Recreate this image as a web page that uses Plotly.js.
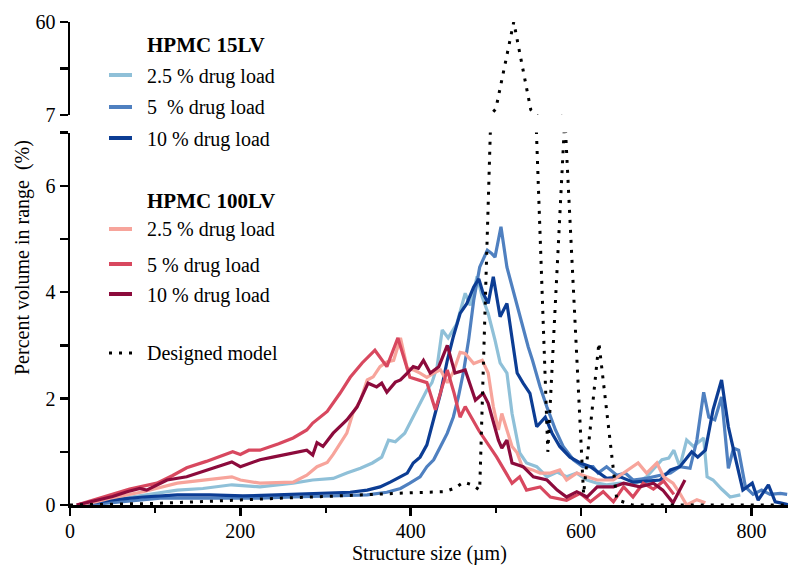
<!DOCTYPE html>
<html>
<head>
<meta charset="utf-8">
<script src="https://cdn.plot.ly/plotly-3.0.1.min.js"></script>
<style>html,body{margin:0;padding:0;background:#fff;}#chart{width:790px;height:572px;}</style>
</head>
<body>
<div id="chart"></div>
<script>
// ---- data ----
const lv15_25_x = [8, 30, 47, 86, 126, 156, 190, 223, 262, 285, 302, 309, 325, 341, 355, 366, 374, 382, 393, 403, 413, 419, 425, 431, 437, 444, 454, 464, 470, 478, 484, 491, 499, 505, 513, 519, 528, 536, 548, 560, 572, 583, 595, 607, 619, 630, 646, 661, 677, 686, 695, 703, 709, 716, 724, 732, 744, 748, 755, 765, 775, 787];
const lv15_25_y = [0, 0.04, 0.09, 0.19, 0.28, 0.31, 0.38, 0.34, 0.41, 0.47, 0.5, 0.5, 0.6, 0.69, 0.79, 0.9, 1.22, 1.19, 1.35, 1.65, 1.97, 2.16, 2.3, 2.6, 3.29, 3.14, 3.4, 3.98, 3.75, 4.3, 3.91, 3.6, 3.1, 2.67, 2.48, 1.72, 0.98, 0.79, 0.72, 0.53, 0.62, 0.53, 0.6, 0.47, 0.41, 0.38, 0.41, 0.38, 0.53, 0.7, 0.85, 0.88, 1.03, 0.72, 1.22, 1.1, 1.26, 0.53, 0.47, 0.3, 0.15, 0.19];

const lv15_5_x = [20, 40, 67, 106, 145, 184, 223, 262, 302, 330, 349, 372, 388, 399, 411, 419, 427, 435, 443, 450, 456, 462, 468, 474, 481, 490, 495, 499, 506, 513, 521, 531, 538, 543, 552, 560, 570, 579, 591, 602, 614, 620, 630, 642, 652, 661, 677, 693, 705, 716, 728, 736, 744, 750, 757, 765, 773, 779, 785, 793, 802, 812, 822, 834, 842];
const lv15_5_y = [0, 0.03, 0.06, 0.13, 0.13, 0.13, 0.13, 0.15, 0.17, 0.17, 0.19, 0.24, 0.31, 0.41, 0.53, 0.72, 0.85, 1.1, 1.35, 1.65, 2.03, 2.5, 3.1, 3.85, 4.47, 4.79, 4.73, 4.66, 5.23, 4.47, 3.98, 3.35, 2.97, 2.72, 2.22, 1.84, 1.41, 1.1, 0.85, 0.72, 0.72, 0.6, 0.72, 0.56, 0.6, 0.47, 0.5, 0.56, 0.6, 0.72, 0.69, 1.22, 2.12, 1.65, 1.6, 2.03, 0.69, 1.07, 1.03, 0.34, 0.2, 0.28, 0.2, 0.22, 0.2];

const lv15_10_x = [8, 47, 86, 126, 164, 203, 243, 282, 302, 329, 349, 364, 376, 388, 396, 403, 411, 419, 427, 435, 443, 450, 458, 466, 474, 480, 485, 491, 497, 505, 513, 519, 525, 532, 540, 548, 558, 566, 575, 587, 599, 611, 630, 646, 661, 677, 693, 705, 716, 730, 737, 746, 755, 765, 773, 781, 790, 801, 808, 820, 828, 834, 845];
const lv15_10_y = [0, 0.09, 0.15, 0.19, 0.19, 0.17, 0.19, 0.21, 0.23, 0.24, 0.28, 0.34, 0.43, 0.53, 0.6, 0.79, 0.9, 1.13, 1.6, 2.1, 2.72, 3.16, 3.6, 3.79, 4.1, 4.25, 3.98, 3.79, 4.29, 3.54, 3.79, 3.1, 2.48, 2.29, 2.1, 1.47, 1.65, 1.35, 1.1, 0.9, 0.79, 0.72, 0.5, 0.53, 0.43, 0.45, 0.47, 0.66, 0.72, 1.0, 0.9, 1.03, 1.79, 2.35, 1.47, 0.9, 0.28, 0.41, 0.09, 0.38, 0.06, 0.04, 0];

const lv100_25_x = [8, 30, 47, 86, 126, 156, 190, 200, 223, 262, 278, 290, 302, 309, 325, 332, 341, 349, 356, 364, 372, 380, 388, 396, 403, 411, 419, 427, 435, 443, 450, 458, 464, 474, 484, 491, 497, 503, 507, 513, 519, 525, 531, 543, 552, 564, 575, 583, 595, 607, 619, 638, 650, 667, 677, 689, 697, 708, 716, 724, 736, 746];
const lv100_25_y = [0, 0.06, 0.13, 0.25, 0.41, 0.47, 0.53, 0.47, 0.41, 0.43, 0.56, 0.72, 0.8, 0.95, 1.35, 1.72, 1.97, 2.35, 2.41, 2.6, 2.69, 2.72, 3.14, 2.57, 2.54, 2.48, 2.4, 2.48, 2.54, 2.3, 2.5, 2.87, 2.85, 2.66, 2.72, 2.48, 1.85, 1.41, 1.72, 1.41, 1.1, 0.98, 0.72, 0.66, 0.6, 0.6, 0.66, 0.47, 0.6, 0.53, 0.47, 0.47, 0.6, 0.79, 0.6, 0.79, 0.53, 0.41, 0.22, 0, 0.1, 0.04];

const lv100_5_x = [8, 25, 47, 70, 90, 102, 120, 137, 160, 191, 200, 210, 223, 245, 262, 278, 285, 302, 317, 329, 343, 358, 372, 385, 399, 419, 429, 443, 451, 458, 464, 480, 501, 519, 528, 536, 552, 564, 583, 599, 611, 626, 638, 650, 661, 673, 685, 697, 709];
const lv100_5_y = [0, 0.08, 0.19, 0.3, 0.37, 0.41, 0.55, 0.7, 0.82, 1.0, 0.95, 1.03, 1.03, 1.15, 1.26, 1.41, 1.54, 1.76, 2.1, 2.4, 2.67, 2.91, 2.6, 3.14, 2.4, 2.3, 1.79, 2.54, 2.1, 1.65, 1.85, 1.4, 0.9, 0.41, 0.53, 0.28, 0.34, 0.15, 0.09, 0.22, 0.06, 0.25, 0.06, 0.34, 0.15, 0.41, 0.3, 0.45, 0.2];

const lv100_10_x = [8, 30, 50, 67, 82, 90, 114, 137, 161, 190, 200, 223, 238, 262, 278, 285, 290, 297, 309, 325, 337, 350, 360, 366, 372, 382, 388, 396, 403, 409, 415, 423, 433, 443, 452, 464, 476, 485, 491, 503, 507, 513, 519, 532, 544, 560, 572, 583, 595, 607, 619, 638, 650, 669, 685, 696, 708, 722];
const lv100_10_y = [0, 0.08, 0.16, 0.25, 0.31, 0.28, 0.47, 0.53, 0.66, 0.81, 0.72, 0.85, 0.9, 0.97, 1.03, 0.94, 1.17, 1.1, 1.35, 1.6, 1.84, 2.29, 2.22, 2.29, 2.12, 2.31, 2.35, 2.48, 2.6, 2.57, 2.72, 2.48, 2.6, 3.0, 2.48, 2.54, 1.97, 2.1, 1.91, 1.22, 1.07, 1.22, 0.79, 0.72, 0.53, 0.47, 0.28, 0.15, 0.25, 0.15, 0.34, 0.34, 0.41, 0.34, 0.41, 0.28, 0.04, 0.47];

const design_x = [0, 50, 100, 150, 200, 250, 300, 350, 400, 440, 452, 462, 472, 481, 500, 521, 541, 561, 581, 603, 621, 642, 660, 700, 750, 800, 845];
const design_y = [0, 0.01, 0.03, 0.06, 0.1, 0.13, 0.16, 0.2, 0.23, 0.25, 0.32, 0.43, 0.38, 0.28, 10.5, 60, 10, 1.0, 7.3, 0.2, 3.05, 0.1, 0, 0, 0, 0, 0];

const xTicks = [0, 200, 400, 600, 800];
const yLowTicks = [0, 1, 2, 3, 4, 5, 6, 7];
const yLowLabels = ['0', '', '2', '', '4', '', '6', ''];
const yHighTicks = [7, 33.5, 60];
const yHighLabels = ['7', '', '60'];

const groupTitles = ['HPMC 15LV', 'HPMC 100LV'];
const seriesNames = ['2.5 % drug load', '5  % drug load', '10 % drug load', '2.5 % drug load', '5 % drug load', '10 % drug load', 'Designed model'];

// ---- styling ----
const FONT = '"Liberation Serif", "Times New Roman", serif';
const colors = ['#8fc0d8', '#4f80c0', '#0c3d94', '#f7a49b', '#d8485f', '#8c0b3c'];
const dotDash = '3px,7px';

const series = [
  [lv15_25_x, lv15_25_y], [lv15_5_x, lv15_5_y], [lv15_10_x, lv15_10_y],
  [lv100_25_x, lv100_25_y], [lv100_5_x, lv100_5_y], [lv100_10_x, lv100_10_y]
];

const traces = [];
series.forEach((s, i) => {
  traces.push({x: s[0], y: s[1], type: 'scatter', mode: 'lines', xaxis: 'x', yaxis: 'y',
    line: {color: colors[i], width: 3.2}, name: seriesNames[i], showlegend: false, hoverinfo: 'skip'});
});
traces.push({x: design_x, y: design_y, type: 'scatter', mode: 'lines', xaxis: 'x', yaxis: 'y',
  line: {color: '#000', width: 3, dash: dotDash}, name: seriesNames[6], showlegend: false});
traces.push({x: design_x, y: design_y, type: 'scatter', mode: 'lines', xaxis: 'x', yaxis: 'y2',
  line: {color: '#000', width: 3, dash: dotDash}, name: seriesNames[6], showlegend: false});

// pixel -> paper helpers for the hand-made legend
const L = 70, T = 22, W = 718, H = 483;
const pxX = p => (p - L) / W;
const pxY = p => (T + H - p) / H;

const annotations = [];
const shapes = [];
const legendRows = [
  {type: 'title', text: groupTitles[0], y: 45},
  {type: 'line', idx: 0, y: 76},
  {type: 'line', idx: 1, y: 108},
  {type: 'line', idx: 2, y: 139},
  {type: 'title', text: groupTitles[1], y: 201},
  {type: 'line', idx: 3, y: 230},
  {type: 'line', idx: 4, y: 265},
  {type: 'line', idx: 5, y: 295},
  {type: 'dot', idx: 6, y: 353}
];
legendRows.forEach(r => {
  if (r.type === 'title') {
    annotations.push({xref: 'paper', yref: 'paper', x: pxX(145), y: pxY(r.y), xanchor: 'left', yanchor: 'middle',
      text: '<b>' + r.text + '</b>', showarrow: false, font: {family: FONT, size: 21, color: '#000'}});
  } else {
    const txt = seriesNames[r.idx].replace(/  /g, '&nbsp; ');
    annotations.push({xref: 'paper', yref: 'paper', x: pxX(145), y: pxY(r.y), xanchor: 'left', yanchor: 'middle',
      text: txt, showarrow: false, font: {family: FONT, size: 20, color: '#000'}});
    if (r.type === 'line') {
      shapes.push({type: 'line', xref: 'paper', yref: 'paper', x0: pxX(109), x1: pxX(132), y0: pxY(r.y - 1), y1: pxY(r.y - 1),
        line: {color: colors[r.idx], width: 4}});
    } else {
      shapes.push({type: 'line', xref: 'paper', yref: 'paper', x0: pxX(109), x1: pxX(135), y0: pxY(r.y), y1: pxY(r.y),
        line: {color: '#000', width: 3, dash: dotDash}});
    }
  }
});
// axis titles
annotations.push({xref: 'paper', yref: 'paper', x: 0.5, y: pxY(553), xanchor: 'center', yanchor: 'middle',
  text: 'Structure size (\u00b5m)', showarrow: false, font: {family: FONT, size: 20, color: '#000'}});
annotations.push({xref: 'paper', yref: 'paper', x: pxX(22), y: pxY(258), xanchor: 'center', yanchor: 'middle',
  textangle: -90, text: 'Percent volume in range&nbsp; (%)', showarrow: false, font: {family: FONT, size: 20, color: '#000'}});

const axisCommon = {
  showgrid: false, zeroline: false, showline: true, linecolor: '#000', linewidth: 2.5,
  ticks: 'outside', ticklen: 8, tickwidth: 2.5, tickcolor: '#000',
  tickfont: {family: FONT, size: 20, color: '#000'}, fixedrange: true
};

const layout = {
  width: 790, height: 572,
  margin: {l: L, r: 790 - L - W, t: T, b: 572 - T - H, pad: 0},
  paper_bgcolor: '#fff', plot_bgcolor: '#fff',
  showlegend: false,
  font: {family: FONT, color: '#000'},
  xaxis: Object.assign({}, axisCommon, {
    range: [0, 843], tickmode: 'array', tickvals: xTicks, anchor: 'y', ticklabelstandoff: -2,
    minor: {dtick: 100, tick0: 0, ticks: 'outside', ticklen: 5, tickwidth: 2, tickcolor: '#000'}
  }),
  yaxis: Object.assign({}, axisCommon, {
    domain: [0, (505 - 132.6) / H], range: [0, 7], tickmode: 'array', tickvals: yLowTicks, ticktext: yLowLabels, anchor: 'x'
  }),
  yaxis2: Object.assign({}, axisCommon, {
    domain: [(505 - 115) / H, 1], range: [7, 60], tickmode: 'array', tickvals: yHighTicks, ticktext: yHighLabels, anchor: 'x'
  }),
  annotations: annotations,
  shapes: shapes
};

Plotly.newPlot('chart', traces, layout, {staticPlot: true, displayModeBar: false});
</script>
</body>
</html>
